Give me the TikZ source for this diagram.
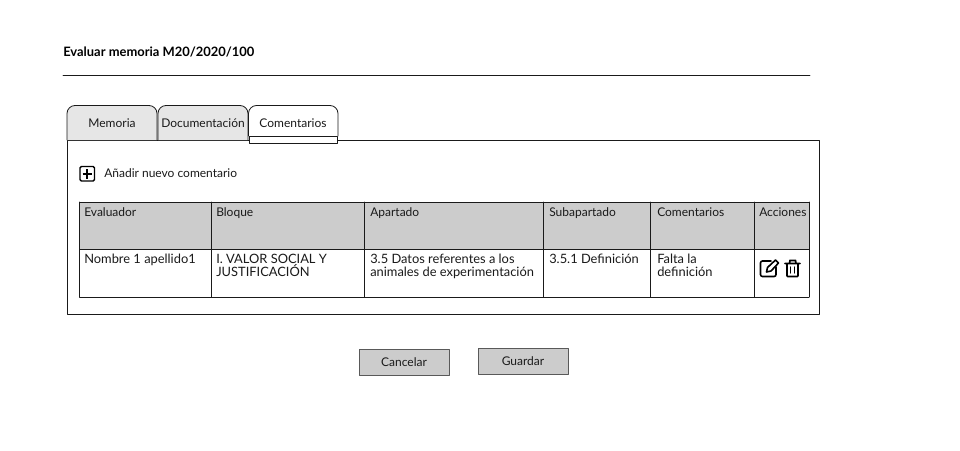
\documentclass[tikz,border=0pt]{standalone}
\usepackage{fontspec}
\setmainfont{Lato}
\usetikzlibrary{positioning}
\definecolor{wire}{HTML}{1A1A1A}
\definecolor{headgray}{HTML}{CCCCCC}
\definecolor{tabgray}{HTML}{E6E6E6}
\tikzset{
	wireline/.style={draw=wire,line width=.6pt,line join=round},
	tabtext/.style={font=\fontsize{9}{10}\selectfont,inner sep=0pt,text=wire},
	headtext/.style={font=\fontsize{9}{10}\selectfont,inner sep=0pt,anchor=north west,text=wire},
	celltext/.style={font=\fontsize{9.65}{9.9}\selectfont,inner sep=0pt,anchor=north west,align=left,text=wire},
	buttonbox/.style={wireline,draw=black!65,line width=.7pt,fill=headgray,minimum width=67.5pt,inner sep=0pt,font=\fontsize{9}{10}\selectfont,text=wire},
}
\begin{document}
\begin{tikzpicture}[x=.75pt,y=-.75pt,line cap=round]
	\useasboundingbox (0,0) rectangle (960,450);
	\fill[white] (0,0) rectangle (960,450);
	%Titulo
	\node[anchor=west,inner sep=0pt,font=\fontsize{9.7}{10}\selectfont\bfseries] (titulo) at (63,52) {Evaluar memoria M20/2020/100};
	\coordinate (ruleL) at (63,75);
	\coordinate (ruleR) at (810,75);
	\draw[wireline] (ruleL)--(ruleR);
	%Marco
	\draw[wireline] (67,140) rectangle (819.5,314.5);
	%Pestanas
	\draw[wireline,fill=tabgray,rounded corners=6pt] (67,140)--(67,105.5)--(157,105.5)--(157,140);
	\draw[wireline,fill=tabgray,rounded corners=6pt] (158,140)--(158,105.5)--(248,105.5)--(248,140);
	\draw[wireline,fill=white,rounded corners=6pt] (248.5,136)--(248.5,105.5)--(338,105.5)--(338,136);
	\draw[wireline,fill=white] (249,136.5)--(337,136.5)--(337,143)--(249,143)--cycle;
	\node[tabtext] (memoria) at (112,123) {Memoria};
	\node[tabtext] (documentacion) at (203,123) {Documentación};
	\node[tabtext] (comentarios) at (293,123) {Comentarios};
	%Anadir
	\draw[draw=black,line width=1.1pt,rounded corners=1pt] (80,166.5) rectangle (94.5,181);
	\draw[line width=1.3pt,line cap=butt] (87.2,169)--(87.2,178.5) (82.5,173.7)--(92,173.7);
	\node[tabtext,anchor=west] (anadir) at (104,173) {Añadir nuevo comentario};
	%Tabla
	\fill[headgray] (79.5,202) rectangle (809,249);
	\draw[wireline] (79.5,202)--(809,202) (79.5,249.5)--(809,249.5) (79.5,297)--(809,297);
	\foreach \x in {79.5,211,364,543,650.5,754,809}
		\draw[wireline] (\x,202)--(\x,297);
	\foreach \x/\name/\texto in {84/evaluador/Evaluador,216/bloque/Bloque,370/apartado/Apartado,549/subapartado/Subapartado,657/coment/Comentarios,759/acciones/Acciones}
		\node[headtext] (\name) at (\x,207) {\texto};
	\node[celltext] (nombre) at (84,253.5) {Nombre 1 apellido1};
	\node[celltext] (valor) at (216,253.5) {I. VALOR SOCIAL Y\\JUSTIFICACIÓN};
	\node[celltext] (datos) at (370,253.5) {3.5 Datos referentes a los\\animales de experimentación};
	\node[celltext] (defin) at (549,253.5) {3.5.1 Definición};
	\node[celltext] (falta) at (657,253.5) {Falta la\\definición};
	%Iconos
	\draw[line width=1.2pt,rounded corners=1.5pt] (771,261)--(760.5,261)--(760.5,276.5)--(776,276.5)--(776,267);
	\draw[line width=1.2pt,line join=round] (766.5,272)--(767.5,267.5)--(775.5,260)--(778.5,263)--(771,271)--cycle;
	\draw[line width=1.2pt,rounded corners=.5pt] (787,264)--(787,276.5)--(798,276.5)--(798,264);
	\draw[line width=1.2pt] (785,263.5)--(800,263.5) (789.5,263)--(790,260.5)--(795.5,260.5)--(796,263);
	\draw[line width=1.1pt] (790.7,267)--(790.7,273) (794.3,267)--(794.3,273);
	%Botones
	\node[buttonbox,minimum height=20pt,text depth=0pt] (cancelar) at (404,362.5) {Cancelar};
	\node[buttonbox,minimum height=19.5pt] (guardar) at (523,361) {Guardar};
\end{tikzpicture}
\end{document}
